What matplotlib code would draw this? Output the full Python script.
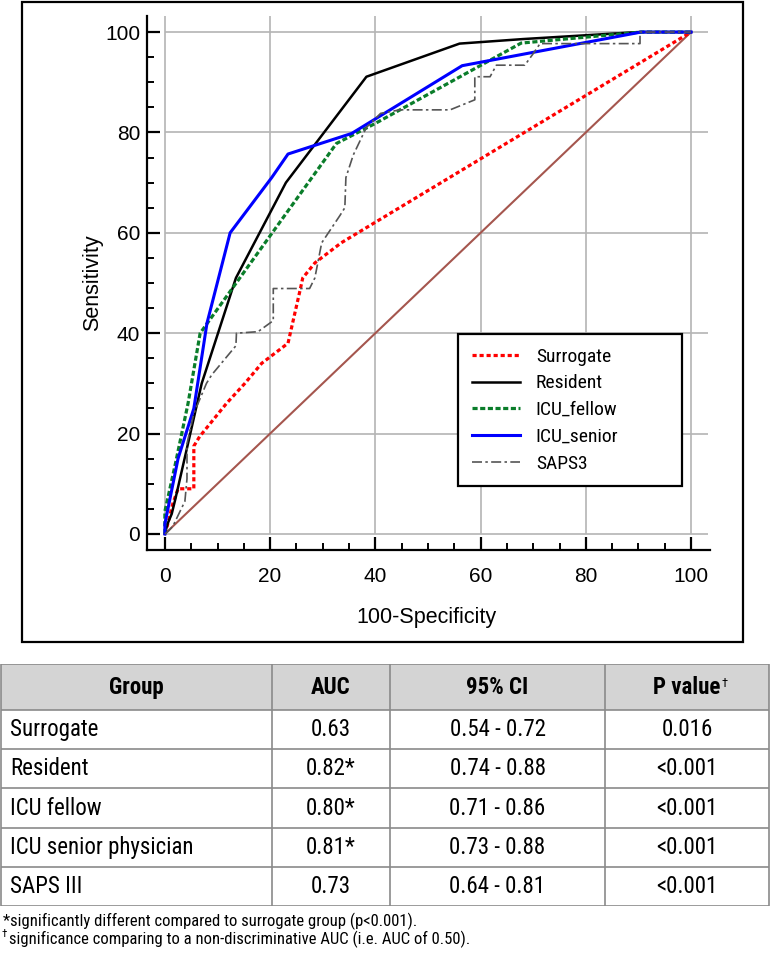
import matplotlib
matplotlib.use("Agg")
import matplotlib.pyplot as plt
from matplotlib import font_manager
from matplotlib.patches import Rectangle

# ROC curves (100-Specificity, Sensitivity)
surrogate_x = [0, 0.3, 1.5, 2.5, 5.5, 5.5, 6.6, 11.7, 15.2, 18.4, 23.4, 25.7, 26.2, 28.5, 33.5, 100]
surrogate_y = [0, 1, 6, 9, 9, 17.5, 19.4, 26, 30, 34, 38, 48.6, 51, 54, 58, 100]

resident_x = [0, 0.5, 1.3, 2, 7, 13.5, 23, 38.3, 56, 68, 90, 100]
resident_y = [0, 2, 4, 7, 30, 51, 70, 91.1, 97.7, 98.6, 100, 100]

fellow_x = [0, 0, 2, 4.4, 6.7, 32.6, 40, 67.7, 90.5, 100]
fellow_y = [0, 4.5, 14, 26, 40, 77.8, 81.8, 97.8, 100, 100]

senior_x = [0, 0, 2.5, 5.5, 8, 12.4, 20.3, 23.4, 35.5, 56.5, 90.5, 100]
senior_y = [0, 2, 15, 25, 42, 60, 71, 75.7, 79.8, 93.3, 100, 100]

saps_x = [0, 0.6, 1.5, 3.8, 4.2, 4.2, 5.5, 7.9, 8.9, 13.5, 13.6, 17.7, 20.6, 20.6, 27.5,
          28.5, 29.8, 33.3, 34.2, 34.4, 35.8, 38.3, 41, 44.7, 54.2, 58.9, 58.9, 61.8, 63,
          68.4, 70, 71.3, 90.3, 90.3, 100]
saps_y = [0, 0.5, 1.5, 6.5, 11, 18, 24, 30, 31.7, 37.5, 40, 40.3, 42.5, 48.9, 48.9,
          51, 58, 63.5, 65, 71, 75.5, 81, 83.8, 84.5, 84.5, 86.5, 91.1, 91.1, 93.4,
          93.4, 95.7, 97.7, 97.7, 100, 100]

ref_x = [0, 100]
ref_y = [0, 100]

ticks = [0, 20, 40, 60, 80, 100]

# table
col_headers = ["Group", "AUC", "95% CI", "P value"]
groups = ["Surrogate", "Resident", "ICU fellow", "ICU senior physician", "SAPS III"]
aucs = ["0.63", "0.82*", "0.80*", "0.81*", "0.73"]
cis = ["0.54 - 0.72", "0.74 - 0.88", "0.71 - 0.86", "0.73 - 0.88", "0.64 - 0.81"]
pvals = ["0.016", "<0.001", "<0.001", "<0.001", "<0.001"]
notes = ["*significantly different compared to surrogate group (p<0.001).",
         "significance comparing to a non-discriminative AUC (i.e. AUC of 0.50)."]

installed = {f.name for f in font_manager.fontManager.ttflist}
narrow = "Liberation Sans"
for cand in ("Roboto Condensed", "Liberation Sans Narrow", "PT Sans Narrow",
             "Archivo Narrow", "Barlow Semi Condensed"):
    if cand in installed:
        narrow = cand
        break
plain = "Liberation Sans"

W, H = 771, 955
fig = plt.figure(figsize=(W / 100, H / 100), dpi=100)

# border round the chart
fig.add_artist(Rectangle((22 / W, 1 - 642 / H), 721 / W, 640 / H, transform=fig.transFigure,
                         fill=False, lw=1.6, ec="black"))

ax = fig.add_axes([147 / W, 1 - 550 / H, 563 / W, 534 / H])
ax.set_xlim(-3.4, 103.6)
ax.set_ylim(-3.2, 103.2)
ax.hlines(ticks, 0, 103.2, color="#b4b4b4", lw=1.2, zorder=0)
ax.vlines(ticks, 0, 103.2, color="#b4b4b4", lw=1.2, zorder=0)

ax.plot(ref_x, ref_y, color="#a5564e", lw=1.5)
ax.plot(surrogate_x, surrogate_y, color="#ff0000", lw=2.3, ls=(0, (1.3, 0.9)), label="Surrogate")
ax.plot(resident_x, resident_y, color="black", lw=1.8, label="Resident")
ax.plot(fellow_x, fellow_y, color="#0a7d2a", lw=2.3, ls=(0, (1.6, 0.8)), label="ICU_fellow")
ax.plot(senior_x, senior_y, color="#0000ff", lw=2.2, label="ICU_senior")
ax.plot(saps_x, saps_y, color="#555555", lw=1.2, ls=(0, (6, 2, 1.5, 2)), label="SAPS3")

for side in ("top", "right"):
    ax.spines[side].set_visible(False)
for side in ("left", "bottom"):
    ax.spines[side].set_linewidth(1.6)
ax.set_xticks(ticks)
ax.set_yticks(ticks)
ax.set_xticks(range(0, 101, 5), minor=True)
ax.set_yticks(range(0, 101, 5), minor=True)
ax.tick_params(which="major", direction="in", length=9.5, width=1.6, labelsize=15)
ax.tick_params(which="minor", direction="in", length=5, width=1.4)
ax.tick_params(axis="x", which="major", pad=12)
ax.tick_params(axis="y", which="major", pad=5)
for lab in ax.get_xticklabels() + ax.get_yticklabels():
    lab.set_family(plain)

ax.set_xlabel("100-Specificity", fontsize=15.5, family=plain)
ax.set_ylabel("Sensitivity", fontsize=15.5, family=plain)
ax.xaxis.set_label_coords(0.497, -0.107)
ax.yaxis.set_label_coords(-0.078, 0.5)

leg = ax.legend(bbox_to_anchor=(458 / W, 1 - 502 / H, 224 / W, 168 / H),
                bbox_transform=fig.transFigure, loc="upper left", mode="expand",
                borderaxespad=0, fancybox=False, edgecolor="black",
                prop={"family": narrow, "size": 14}, handlelength=2.5, handletextpad=0.8,
                labelspacing=0.45, borderpad=0.7)
leg.get_frame().set_linewidth(1.6)
leg.get_frame().set_alpha(1)

# table below the chart, drawn in pixel units
tax = fig.add_axes([0, 1 - 906 / H, 1, 242 / H])
tax.set_xlim(0, W)
tax.set_ylim(906, 664)
tax.axis("off")
col_edges = [1, 272, 390, 605, 769]
row_edges = [664, 710] + [710 + 39.2 * (i + 1) for i in range(len(groups))]
line_c = "#8a8a8a"
tax.add_patch(Rectangle((col_edges[0], row_edges[0]), col_edges[-1] - col_edges[0],
                        row_edges[1] - row_edges[0], fc="#d4d4d4", ec="none"))
tax.hlines(row_edges, col_edges[0], col_edges[-1], color=line_c, lw=1.2)
tax.vlines(col_edges, row_edges[0], row_edges[-1], color=line_c, lw=1.2)

centers = [(a + b) / 2 for a, b in zip(col_edges[:-1], col_edges[1:])]
hy = (row_edges[0] + row_edges[1]) / 2
for i, h in enumerate(col_headers):
    t = tax.text(centers[i], hy, h, ha="center", va="center", fontsize=16.5,
                 fontweight="bold", family=narrow)
    if h == "P value":
        tax.annotate("\u2020", xy=(1, 1), xycoords=t, xytext=(0.5, -1), textcoords="offset points",
                     ha="left", va="top", fontsize=9, family=narrow)

for r, (g, a, c, p) in enumerate(zip(groups, aucs, cis, pvals)):
    y = (row_edges[r + 1] + row_edges[r + 2]) / 2
    tax.text(col_edges[0] + 9, y, g, ha="left", va="center", fontsize=16.5, family=narrow)
    tax.text(centers[1], y, a, ha="center", va="center", fontsize=16.5, family=narrow)
    tax.text(centers[2], y, c, ha="center", va="center", fontsize=16.5, family=narrow)
    tax.text(centers[3], y, p, ha="center", va="center", fontsize=16.5, family=narrow)

fig.text(3 / W, 1 - 921 / H, notes[0], ha="left", va="center", fontsize=12, family=narrow)
fig.text(2 / W, 1 - 934 / H, "\u2020", ha="left", va="center", fontsize=8, family=narrow)
fig.text(9 / W, 1 - 939 / H, notes[1], ha="left", va="center", fontsize=12, family=narrow)

fig.savefig("out.png", dpi=100)
